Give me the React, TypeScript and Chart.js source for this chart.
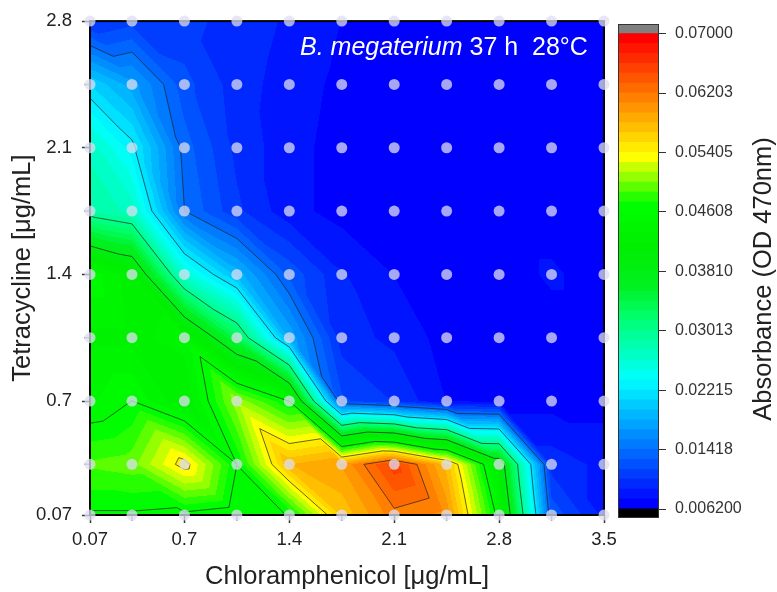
import React, { useEffect, useRef } from "react";
import { Chart, registerables } from "chart.js";
Chart.register(...registerables);

const FONT = "'Liberation Sans', Arial, sans-serif";

// Chloramphenicol concentrations (x) and tetracycline concentrations (y), µg/mL
const chloramphenicol = [0.07, 0.35, 0.7, 1.05, 1.4, 1.75, 2.1, 2.45, 2.8, 3.15, 3.5];
const tetracycline = [0.07, 0.35, 0.7, 1.05, 1.4, 1.75, 2.1, 2.45, 2.8];

// Absorbance (OD 470 nm), one row per tetracycline level, bottom to top
const odTet007 = [0.0458, 0.0458, 0.0455, 0.0445, 0.0462, 0.0570, 0.0615, 0.0603, 0.0450, 0.0125, 0.0085];
const odTet035 = [0.0490, 0.0495, 0.0550, 0.0461, 0.0580, 0.0595, 0.0655, 0.0575, 0.0413, 0.0096, 0.0085];
const odTet070 = [0.0445, 0.0461, 0.0420, 0.0510, 0.0460, 0.0118, 0.0101, 0.0075, 0.0070, 0.0070, 0.0070];
const odTet105 = [0.0430, 0.0430, 0.0440, 0.0335, 0.0180, 0.0095, 0.0085, 0.0070, 0.0070, 0.0070, 0.0070];
const odTet140 = [0.0457, 0.0425, 0.0260, 0.0190, 0.0125, 0.0090, 0.0075, 0.0070, 0.0070, 0.0077, 0.0070];
const odTet175 = [0.0288, 0.0270, 0.0142, 0.0105, 0.0080, 0.0070, 0.0070, 0.0070, 0.0070, 0.0070, 0.0070];
const odTet210 = [0.0270, 0.0228, 0.0135, 0.0098, 0.0080, 0.0070, 0.0070, 0.0070, 0.0070, 0.0070, 0.0070];
const odTet245 = [0.0208, 0.0175, 0.0120, 0.0095, 0.0082, 0.0072, 0.0070, 0.0070, 0.0070, 0.0070, 0.0070];
const odTet280 = [0.0100, 0.0110, 0.0105, 0.0098, 0.0086, 0.0075, 0.0070, 0.0070, 0.0070, 0.0070, 0.0070];
const absorbance = [odTet007, odTet035, odTet070, odTet105, odTet140, odTet175, odTet210, odTet245, odTet280];

const xMajorTicks = [0.07, 0.7, 1.4, 2.1, 2.8, 3.5];
const xMinorTicks = [0.35, 1.05, 1.75, 2.45, 3.15];
const yMajorTicks = [0.07, 0.7, 1.4, 2.1, 2.8];
const yMinorTicks = [0.35, 1.05, 1.75, 2.45];

const levelMin = 0.0062;
const levelMax = 0.07;
const levelCount = 48;
const lineLevels = [0.01418, 0.02215, 0.03013, 0.0381, 0.04608, 0.05405, 0.06203];
const colorbarTicks = [0.0062, 0.01418, 0.02215, 0.03013, 0.0381, 0.04608, 0.05405, 0.06203, 0.07];
const colorbarLabels = ["0.006200", "0.01418", "0.02215", "0.03013", "0.03810", "0.04608", "0.05405", "0.06203", "0.07000"];

const titleItalic = "B. megaterium";
const titleRest = " 37 h  28°C";

const paletteStops: [number, number[]][] = [
  [0, [0, 0, 255]],
  [0.267, [0, 255, 255]],
  [0.4, [0, 255, 110]],
  [0.47, [0, 240, 30]],
  [0.55, [0, 238, 0]],
  [0.644, [0, 255, 0]],
  [0.745, [255, 255, 0]],
  [0.872, [255, 128, 0]],
  [1, [255, 0, 0]],
];

function paletteAt(t: number): number[] {
  for (let i = 0; i < paletteStops.length - 1; i++) {
    const [t0, c0] = paletteStops[i];
    const [t1, c1] = paletteStops[i + 1];
    if (t <= t1) {
      const f = (t - t0) / (t1 - t0);
      return c0.map((c, k) => Math.round(c + (c1[k] - c) * f));
    }
  }
  return paletteStops[paletteStops.length - 1][1];
}

const levelStep = (levelMax - levelMin) / levelCount;
const bandColors = Array.from({ length: levelCount }, (_, k) => paletteAt(k / (levelCount - 1)));

function findCell(arr: number[], v: number) {
  let i = 0;
  while (i < arr.length - 2 && v > arr[i + 1]) i++;
  return i;
}

function valueAt(xv: number, yv: number) {
  const X = chloramphenicol, Y = tetracycline;
  const i = findCell(X, xv), j = findCell(Y, yv);
  const u = Math.min(1, Math.max(0, (xv - X[i]) / (X[i + 1] - X[i])));
  const w = Math.min(1, Math.max(0, (yv - Y[j]) / (Y[j + 1] - Y[j])));
  const BL = absorbance[j][i], BR = absorbance[j][i + 1];
  const TL = absorbance[j + 1][i], TR = absorbance[j + 1][i + 1];
  if (u + w >= 1) return TR + (1 - u) * (TL - TR) + (1 - w) * (BR - TR);
  return BL + u * (BR - BL) + w * (TL - BL);
}

const contourPlugin = {
  id: "contourFill",
  beforeDatasetsDraw(chart: any) {
    const { ctx, chartArea, scales } = chart;
    const xs = scales.x, ys = scales.y;
    const left = Math.round(chartArea.left), top = Math.round(chartArea.top);
    const w = Math.round(chartArea.right) - left, h = Math.round(chartArea.bottom) - top;
    const off = document.createElement("canvas");
    off.width = w; off.height = h;
    const octx = off.getContext("2d")!;
    const img = octx.createImageData(w, h);
    const xv = new Array(w);
    for (let px = 0; px < w; px++) xv[px] = xs.getValueForPixel(left + px + 0.5);
    for (let py = 0; py < h; py++) {
      const yv = ys.getValueForPixel(top + py + 0.5);
      for (let px = 0; px < w; px++) {
        const v = valueAt(xv[px], yv);
        let k = Math.floor((v - levelMin) / levelStep);
        k = Math.max(0, Math.min(levelCount - 1, k));
        const c = bandColors[k];
        const o = (py * w + px) * 4;
        img.data[o] = c[0]; img.data[o + 1] = c[1]; img.data[o + 2] = c[2]; img.data[o + 3] = 255;
      }
    }
    octx.putImageData(img, 0, 0);
    ctx.save();
    ctx.drawImage(off, left, top);

    // contour lines (marching triangles)
    ctx.beginPath();
    const X = chloramphenicol, Y = tetracycline;
    for (let j = 0; j < Y.length - 1; j++) {
      for (let i = 0; i < X.length - 1; i++) {
        const BL = { x: X[i], y: Y[j], v: absorbance[j][i] };
        const BR = { x: X[i + 1], y: Y[j], v: absorbance[j][i + 1] };
        const TL = { x: X[i], y: Y[j + 1], v: absorbance[j + 1][i] };
        const TR = { x: X[i + 1], y: Y[j + 1], v: absorbance[j + 1][i + 1] };
        for (const tri of [[TL, TR, BR], [TL, BL, BR]]) {
          for (const L of lineLevels) {
            const pts: { x: number; y: number }[] = [];
            for (let e = 0; e < 3; e++) {
              const a = tri[e], b = tri[(e + 1) % 3];
              if ((a.v < L) !== (b.v < L)) {
                const f = (L - a.v) / (b.v - a.v);
                pts.push({ x: a.x + (b.x - a.x) * f, y: a.y + (b.y - a.y) * f });
              }
            }
            if (pts.length === 2) {
              ctx.moveTo(xs.getPixelForValue(pts[0].x), ys.getPixelForValue(pts[0].y));
              ctx.lineTo(xs.getPixelForValue(pts[1].x), ys.getPixelForValue(pts[1].y));
            }
          }
        }
      }
    }
    ctx.strokeStyle = "rgba(30,30,30,0.85)";
    ctx.lineWidth = 0.8;
    ctx.stroke();

    // frame
    ctx.strokeStyle = "#000";
    ctx.lineWidth = 2;
    ctx.strokeRect(chartArea.left, chartArea.top, chartArea.right - chartArea.left, chartArea.bottom - chartArea.top);

    // minor ticks
    ctx.strokeStyle = "#9a9a9a";
    ctx.lineWidth = 1.5;
    ctx.beginPath();
    for (const v of xMinorTicks) {
      const px = xs.getPixelForValue(v);
      ctx.moveTo(px, chartArea.bottom + 1); ctx.lineTo(px, chartArea.bottom + 6);
    }
    for (const v of yMinorTicks) {
      const py = ys.getPixelForValue(v);
      ctx.moveTo(chartArea.left - 1, py); ctx.lineTo(chartArea.left - 6, py);
    }
    ctx.stroke();
    ctx.restore();
  },
  afterDatasetsDraw(chart: any) {
    const { ctx } = chart;
    ctx.save();
    ctx.fillStyle = "#fff";
    ctx.textBaseline = "alphabetic";
    ctx.textAlign = "left";
    ctx.font = `italic 25px ${FONT}`;
    const x0 = 300, base = 55;
    ctx.fillText(titleItalic, x0, base);
    const w1 = ctx.measureText(titleItalic).width;
    ctx.font = `25px ${FONT}`;
    ctx.fillText(titleRest, x0 + w1, base);
    ctx.restore();
  },
};

const cbPxPerUnit = 475.3 / (levelMax - levelMin);
const cbMax = levelMax + 9.7 / cbPxPerUnit;
const cbMin = levelMin - 9 / cbPxPerUnit;

const colorbarPlugin = {
  id: "colorbarFrame",
  afterDraw(chart: any) {
    const { ctx, chartArea } = chart;
    ctx.save();
    ctx.strokeStyle = "#333";
    ctx.lineWidth = 1;
    ctx.strokeRect(chartArea.left + 0.5, chartArea.top + 0.5, chartArea.right - chartArea.left - 1, chartArea.bottom - chartArea.top - 1);
    ctx.fillStyle = "#222";
    ctx.font = `25.5px ${FONT}`;
    ctx.textAlign = "center";
    ctx.textBaseline = "middle";
    ctx.translate(764, 279);
    ctx.rotate(-Math.PI / 2);
    ctx.fillText("Absorbance (OD 470nm)", 0, 0);
    ctx.restore();
  },
};

export default function App() {
  const mainRef = useRef<HTMLCanvasElement>(null);
  const barRef = useRef<HTMLCanvasElement>(null);

  useEffect(() => {
    const points: { x: number; y: number }[] = [];
    tetracycline.forEach((y) => chloramphenicol.forEach((x) => points.push({ x, y })));

    const main = new Chart(mainRef.current!, {
      type: "scatter",
      data: {
        datasets: [
          {
            data: points,
            pointRadius: 5.5,
            pointHoverRadius: 5.5,
            pointBackgroundColor: "rgba(222,222,242,0.75)",
            pointBorderWidth: 0,
            borderWidth: 0,
            clip: false,
          } as any,
        ],
      },
      options: {
        responsive: false,
        animation: false,
        events: [],
        layout: { padding: { left: 0, top: 21, right: 173, bottom: 0 } },
        plugins: { legend: { display: false }, tooltip: { enabled: false } },
        scales: {
          x: {
            type: "linear",
            min: 0.07,
            max: 3.5,
            afterBuildTicks: (s: any) => { s.ticks = xMajorTicks.map((v) => ({ value: v })); },
            afterFit: (s: any) => { s.height = 77; },
            grid: { drawOnChartArea: false, drawTicks: true, tickLength: 8, tickColor: "#333", tickWidth: 1.5 },
            border: { display: false },
            ticks: { font: { family: FONT, size: 18.5 }, color: "#222", padding: 6, maxRotation: 0, autoSkip: false, callback: (v: any) => String(v) },
            title: { display: true, text: "Chloramphenicol [μg/mL]", font: { family: FONT, size: 25.5 }, color: "#222", padding: { top: 0, bottom: 0 } },
          },
          y: {
            type: "linear",
            min: 0.07,
            max: 2.8,
            afterBuildTicks: (s: any) => { s.ticks = yMajorTicks.map((v) => ({ value: v })); },
            afterFit: (s: any) => { s.width = 90; },
            grid: { drawOnChartArea: false, drawTicks: true, tickLength: 8, tickColor: "#333", tickWidth: 1.5 },
            border: { display: false },
            ticks: { font: { family: FONT, size: 18.5 }, color: "#222", padding: 10, autoSkip: false, callback: (v: any) => String(v) },
            title: { display: true, text: "Tetracycline [μg/mL]", font: { family: FONT, size: 25.5 }, color: "#222", padding: { top: 8, bottom: 0 } },
          },
        },
      },
      plugins: [contourPlugin],
    });

    const bandDatasets = [
      { data: [[cbMin, levelMin]], backgroundColor: "#000" },
      ...bandColors.map((c, k) => ({
        data: [[levelMin + k * levelStep, levelMin + (k + 1) * levelStep]],
        backgroundColor: `rgb(${c[0]},${c[1]},${c[2]})`,
      })),
      { data: [[levelMax, cbMax]], backgroundColor: "#808080" },
    ].map((d) => ({ ...d, borderWidth: 0, grouped: false, barPercentage: 1, categoryPercentage: 1, inflateAmount: 0.5 }));

    const bar = new Chart(barRef.current!, {
      type: "bar",
      data: { labels: ["scale"], datasets: bandDatasets as any },
      options: {
        responsive: false,
        animation: false,
        events: [],
        layout: { padding: { left: 618, right: 0, top: 24, bottom: 74 } },
        plugins: { legend: { display: false }, tooltip: { enabled: false } },
        scales: {
          x: { type: "category", display: false },
          y: {
            type: "linear",
            position: "right",
            min: cbMin,
            max: cbMax,
            afterBuildTicks: (s: any) => { s.ticks = colorbarTicks.map((v) => ({ value: v })); },
            afterFit: (s: any) => { s.width = 118; },
            grid: { drawOnChartArea: false, drawTicks: true, tickLength: 7, tickColor: "#333", tickWidth: 1 },
            border: { display: false },
            ticks: { font: { family: FONT, size: 16 }, color: "#333", padding: 9, autoSkip: false, callback: (_v: any, i: number) => colorbarLabels[i] },
          },
        },
      },
      plugins: [colorbarPlugin],
    });

    return () => {
      main.destroy();
      bar.destroy();
    };
  }, []);

  return (
    <div style={{ position: "fixed", left: 0, top: 0, width: 777, height: 592, background: "#fff" }}>
      <canvas ref={mainRef} width={777} height={592} style={{ position: "absolute", left: 0, top: 0 }} />
      <canvas ref={barRef} width={777} height={592} style={{ position: "absolute", left: 0, top: 0 }} />
    </div>
  );
}
